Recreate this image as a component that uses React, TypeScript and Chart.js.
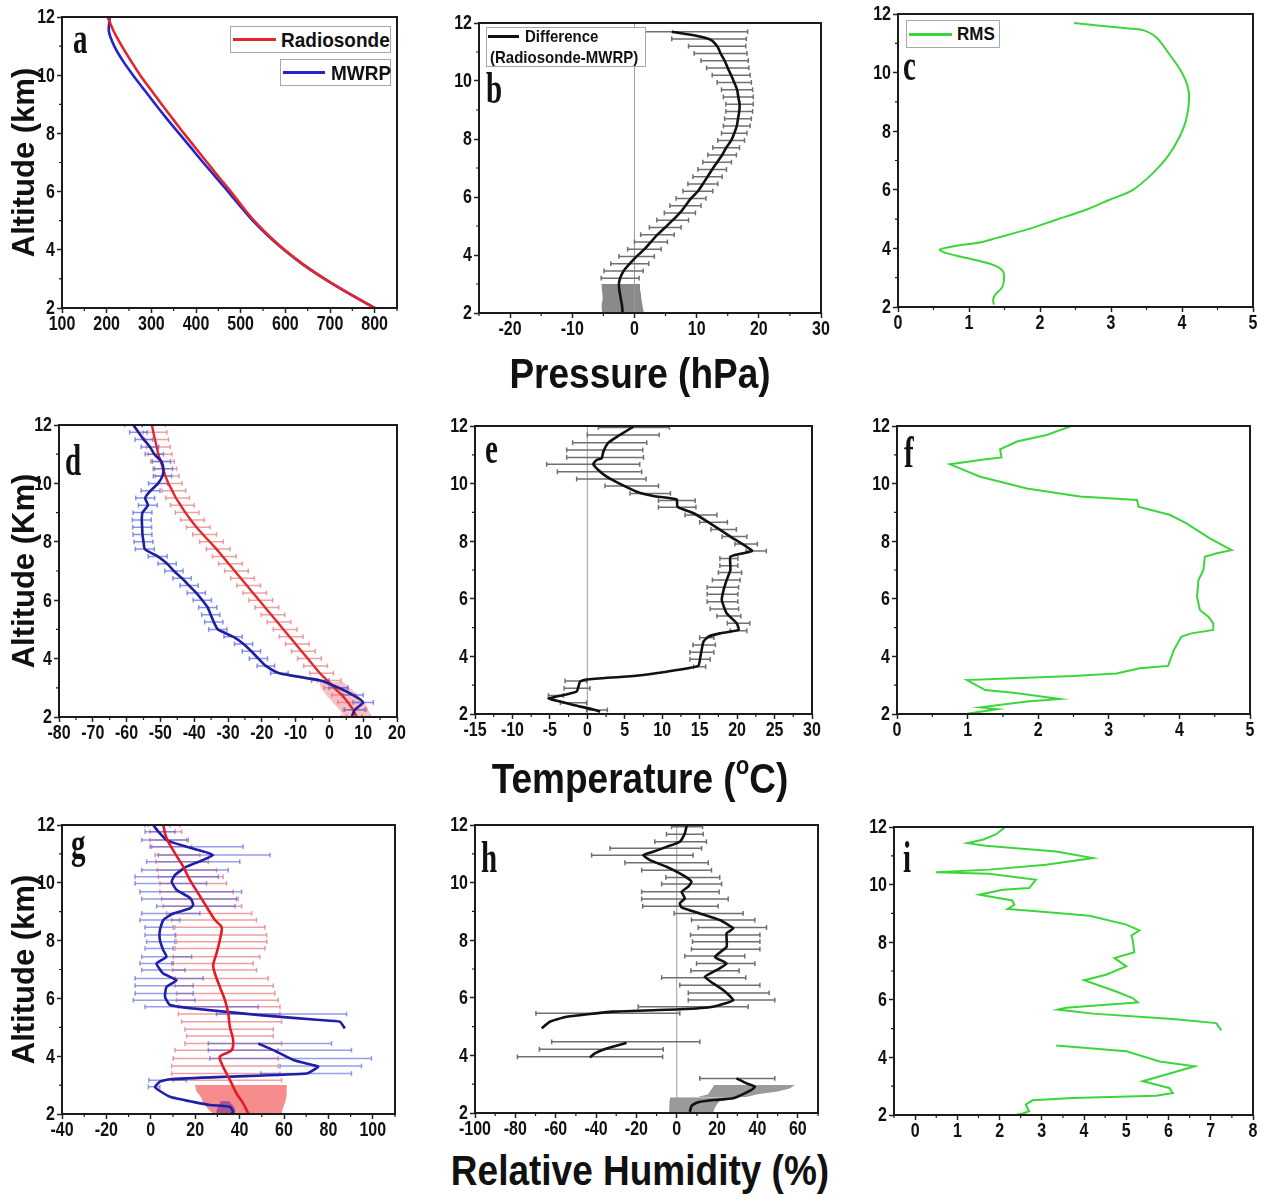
import React, { useEffect, useRef } from "react";
import { Chart, registerables } from "chart.js";
Chart.register(...registerables);

const SANS = '"Liberation Sans", Arial, Helvetica, sans-serif';
const SERIF = '"Liberation Serif", "Times New Roman", serif';
Chart.defaults.font.family = SANS;

// ---------------- DATA ----------------
// (a) pressure profiles (hPa)
const aAlt = [2, 2.5, 3, 3.5, 4, 4.5, 5, 5.5, 6, 6.5, 7, 7.5, 8, 8.5, 9, 9.5, 10, 10.5, 11, 11.5, 12];
const aRadiosonde = [800, 742, 688, 640, 598, 562, 530, 503, 478, 451, 425, 399, 373, 348, 323, 299, 275, 254, 234, 216, 202];
const aMWRP = [800, 742, 688, 639, 597, 560, 527, 499, 472, 444, 416, 389, 362, 335, 309, 284, 259, 236, 217, 205, 207];

// (b) pressure difference
const bLineAlt = [11.7, 11.45, 11.2, 10.95, 10.7, 10.45, 10.2, 9.95, 9.7, 9.45, 9.2, 8.95, 8.7, 8.45, 8.2, 7.95, 7.7, 7.45, 7.2, 6.95, 6.7, 6.45, 6.2, 5.95, 5.7, 5.45, 5.2, 4.95, 4.7, 4.45, 4.2, 3.95, 3.7, 3.45, 3.2, 3.0, 2.75, 2.5, 2.25, 2.0];
const bDiff = [6.0, 12.0, 13.3, 13.85, 14.5, 15.0, 15.55, 16.05, 16.5, 16.7, 16.9, 16.85, 16.65, 16.45, 16.05, 15.55, 14.75, 14.1, 13.3, 12.5, 11.75, 11.0, 10.2, 9.1, 8.2, 7.3, 6.15, 4.95, 3.7, 2.65, 1.6, 0.35, -0.75, -1.75, -2.3, -2.5, -2.4, -2.2, -2.0, -1.9];
const bErr = [12.2, 6.0, 4.6, 4.25, 3.8, 3.4, 3.05, 2.75, 2.5, 2.4, 2.2, 2.15, 2.15, 2.15, 2.05, 2.15, 2.15, 2.3, 2.3, 2.3, 2.35, 2.4, 2.4, 2.4, 2.5, 2.5, 2.55, 2.55, 2.7, 2.65, 2.7, 2.85, 3.05, 3.15, 3.05];
const bFillAlt = [2.0, 2.25, 2.5, 2.75, 3.0];
const bFillLo = [-5.2, -5.3, -5.1, -5.2, -5.3];
const bFillHi = [1.5, 1.3, 1.1, 1.0, 0.9];

// (c) pressure RMS
const cAlt = [11.69, 11.51, 11.45, 11.2, 10.6, 10.04, 9.53, 9.08, 8.4, 7.83, 7.14, 6.57, 6.0, 5.66, 5.32, 4.98, 4.64, 4.35, 4.2, 4.09, 3.96, 3.84, 3.62, 3.44, 3.22, 2.88, 2.65, 2.42, 2.25, 2.08];
const cRms = [2.48, 3.22, 3.45, 3.64, 3.83, 3.99, 4.08, 4.1, 4.06, 3.97, 3.8, 3.59, 3.31, 2.98, 2.65, 2.23, 1.81, 1.38, 1.15, 0.82, 0.59, 0.68, 1.06, 1.34, 1.48, 1.49, 1.46, 1.37, 1.34, 1.35];

// (d) temperature profiles
const dAlt = [2.0, 2.25, 2.5, 2.75, 3.0, 3.25, 3.5, 3.75, 4.0, 4.25, 4.5, 4.75, 5.0, 5.25, 5.5, 5.75, 6.0, 6.25, 6.5, 6.75, 7.0, 7.25, 7.5, 7.75, 8.0, 8.25, 8.5, 8.75, 9.0, 9.25, 9.5, 9.75, 10.0, 10.25, 10.5, 10.75, 11.0, 11.25, 11.5, 11.75, 12.0];
const dRadiosonde = [8.1, 7.0, 5.5, 3.7, 1.4, -0.6, -2.8, -4.6, -6.4, -8.2, -10.0, -11.8, -13.6, -15.4, -17.2, -19.0, -20.8, -22.6, -24.4, -26.2, -28.0, -29.8, -31.6, -33.4, -35.4, -37.4, -39.3, -41.0, -42.6, -44.0, -45.4, -46.5, -47.6, -48.5, -49.2, -49.9, -50.6, -51.1, -51.6, -52.1, -52.5];
const dRadLo = [5.1, 4.0, 2.5, 0.7, -1.6, -3.6, -5.8, -7.6, -9.4, -11.2, -13.0, -14.8, -16.6, -18.4, -20.2, -22.0, -23.8, -25.6, -27.4, -29.2, -31.0, -32.8, -34.6, -36.4, -38.4, -40.4, -42.3, -44.0, -45.6, -47.0, -48.4, -49.5, -50.6, -51.5, -52.2, -52.9, -53.6, -54.1, -54.6, -55.1, -55.5];
const dRadHi = [12.1, 11.0, 9.5, 7.7, 5.4, 3.4, 1.2, -0.6, -2.4, -4.2, -6.0, -7.8, -9.6, -11.4, -13.2, -15.0, -16.8, -18.6, -20.4, -22.2, -24.0, -25.8, -27.6, -29.4, -31.4, -33.4, -35.3, -37.0, -38.6, -40.0, -41.4, -42.5, -43.6, -44.5, -45.2, -45.9, -46.6, -47.1, -47.6, -48.1, -48.5];
const dMWRP = [6.6, 7.5, 10.0, 7.0, 2.7, -2.7, -14.8, -18.8, -21.0, -23.1, -25.4, -28.5, -33.0, -34.2, -35.1, -36.0, -37.6, -39.4, -41.5, -43.6, -46.0, -48.0, -50.8, -54.6, -55.0, -55.3, -55.4, -55.5, -55.3, -53.7, -54.5, -52.9, -50.7, -49.4, -49.1, -49.7, -51.8, -53.1, -54.9, -56.5, -58.0];
const dMWRPErr = [3.0, 3.0, 3.0, 3.0, 2.8, 2.6, 2.6, 2.6, 2.7, 2.7, 2.7, 2.7, 2.7, 2.7, 2.7, 2.7, 2.7, 2.7, 2.7, 2.7, 2.7, 2.7, 2.8, 2.8, 2.8, 2.8, 2.8, 2.8, 2.8, 2.8, 2.8, 2.8, 2.8, 2.7, 2.7, 2.7, 2.7, 2.6, 2.6, 2.6, 2.6];
const dFillAlt = [2.0, 2.25, 2.5, 2.75, 3.0, 3.2];
const dFillLo = [4.5, 3.0, 1.0, -1.0, -2.5, -3.0];
const dFillHi = [12.5, 11.5, 10.5, 8.5, 6.0, 4.0];

// (e) temperature difference
const eAlt = [11.98, 11.69, 11.42, 11.11, 10.88, 10.82, 10.68, 10.47, 10.24, 9.99, 9.72, 9.57, 9.45, 9.2, 8.97, 8.62, 8.16, 7.67, 7.56, 7.46, 7.0, 6.65, 6.31, 5.96, 5.5, 5.15, 4.92, 4.8, 4.69, 4.51, 3.99, 3.67, 3.47, 3.32, 3.2, 3.12, 2.78, 2.63, 2.54, 2.43, 2.31, 2.16, 2.08];
const eDiff = [6.15, 4.37, 2.81, 2.14, 1.92, 1.25, 0.8, 1.47, 2.58, 4.37, 6.6, 8.82, 11.94, 12.03, 14.2, 16.4, 19.1, 22.0, 20.4, 19.1, 19.1, 18.6, 18.2, 17.95, 18.6, 19.95, 20.2, 17.7, 16.2, 15.5, 15.1, 14.8, 10.6, 6.15, -0.09, -0.98, -1.43, -3.65, -5.2, -3.65, -1.87, 0.8, 1.7];
const eBarAlt = [11.95, 11.69, 11.42, 11.17, 10.91, 10.67, 10.41, 10.16, 9.92, 9.66, 9.41, 9.18, 8.91, 8.66, 8.41, 8.16, 7.9, 7.66, 7.4, 7.15, 6.91, 6.65, 6.4, 6.16, 5.9, 5.65, 5.4, 5.15, 4.89, 4.65, 4.4, 4.14, 3.9, 3.64, 3.15, 2.89, 2.64, 2.39, 2.14];
const eBarLo = [1.47, 0, -1.96, -2.76, -2.76, -5.43, -4.0, -1.43, 2.36, 5.7, 9.5, 9.5, 13.05, 15.0, 16.5, 18.0, 19.7, 21.2, 17.7, 17.7, 17.5, 16.7, 16.0, 16.0, 16.0, 16.4, 17.3, 18.7, 19.1, 15.0, 14.1, 13.7, 13.7, 14.2, -2.98, -3.1, -5.2, -3.6, -0.1];
const eBarHi = [10.96, 9.6, 7.93, 7.4, 7.5, 7.0, 7.26, 7.84, 9.5, 11.1, 14.4, 14.5, 17.3, 18.7, 19.9, 21.3, 22.7, 23.9, 20.1, 20.1, 20.6, 20.4, 20.2, 20.1, 20.1, 20.2, 20.5, 21.7, 21.3, 16.9, 17.1, 16.9, 16.4, 15.8, -0.09, 0.36, -3.2, -0.1, 2.67];

// (f) temperature RMS
const fAlt = [11.98, 11.69, 11.46, 11.19, 10.91, 10.84, 10.67, 10.24, 9.83, 9.55, 9.43, 9.2, 8.91, 8.62, 8.1, 7.69, 7.58, 7.46, 7.0, 6.65, 6.07, 5.61, 5.38, 5.15, 4.92, 4.8, 4.69, 4.22, 3.67, 3.59, 3.41, 3.32, 3.18, 2.83, 2.74, 2.52, 2.43, 2.23, 2.17, 2.08, 2.0];
const fRms = [2.45, 2.12, 1.7, 1.46, 1.48, 1.23, 0.75, 1.18, 1.84, 2.59, 3.4, 3.42, 3.87, 4.1, 4.43, 4.74, 4.53, 4.36, 4.34, 4.27, 4.25, 4.29, 4.41, 4.48, 4.48, 4.17, 4.03, 3.92, 3.84, 3.44, 3.11, 2.5, 0.99, 1.25, 1.65, 2.31, 1.84, 1.18, 1.42, 1.18, 0.97];

// (g) relative humidity profiles
const gRadAlt = [12.0, 11.54, 11.02, 10.56, 10.1, 9.63, 9.17, 8.71, 8.46, 8.02, 7.56, 7.15, 6.86, 6.4, 5.94, 5.48, 5.02, 4.56, 4.21, 3.98, 3.75, 3.4, 3.06, 2.71, 2.37, 2.02];
const gRadiosonde = [5.6, 7.1, 10.9, 14.6, 17.6, 21.4, 25.1, 28.9, 31.9, 31.1, 29.6, 28.1, 28.9, 31.1, 33.4, 34.9, 35.6, 37.1, 36.4, 31.1, 31.9, 34.1, 36.4, 38.6, 41.6, 43.9];
const gMwrpAlt = [12.0, 11.77, 11.48, 11.25, 11.07, 10.96, 10.79, 10.56, 10.27, 10.04, 9.75, 9.52, 9.4, 9.23, 9.11, 8.94, 8.71, 8.36, 8.02, 7.67, 7.44, 7.21, 6.86, 6.63, 6.4, 6.06, 5.77, 5.65, 5.42, 5.25, 5.19, 4.96, null, 4.44, 4.21, 3.87, 3.69, 3.64, 3.4, 3.29, 3.2, 3.12, 2.94, 2.83, 2.6, 2.42, 2.31, 2.25, 2.08, 2.02];
const gMWRP = [1.1, 3.4, 7.1, 16.1, 24.4, 28.1, 23.6, 16.1, 10.9, 9.4, 11.6, 16.9, 18.4, 19.1, 17.6, 10.1, 5.6, 4.1, 4.1, 5.6, 7.1, 2.6, 5.6, 11.6, 7.1, 6.4, 8.6, 19.1, 49.1, 76.2, 85.2, 87.4, null, 48.4, 55.2, 64.2, 73.2, 75.4, 70.2, 34.1, 8.6, 4.1, 1.9, 3.4, 8.6, 19.1, 26.6, 35.6, 37.1, 36.4];
const gRadBarAlt = [12.0, 11.77, 11.48, 11.25, 10.96, 10.73, 10.44, 10.21, 9.98, 9.69, 9.44, 9.19, 8.94, 8.71, 8.46, 8.19, 7.96, 7.73, 7.44, 7.21, 6.98, 6.69, 6.44, 6.17, 5.94, 5.71, 5.46, 5.19, 4.93, 4.7, 4.44, 4.21, 3.92, 3.66, 3.4, 3.17];
const gRadLo = [-1.1, -0.4, -0.4, 0.4, 1.9, 2.3, 2.9, 3.4, 4.1, 4.1, 4.9, 5.6, 7.1, 9.4, 10.9, 11.3, 11.6, 10.9, 10.1, 9.4, 9.8, 10.9, 10.9, 11.6, 11.6, 12.4, 12.4, 13.9, 15.4, 16.1, 15.4, 10.9, 10.1, 9.4, 9.4, 10.1];
const gRadHi = [13.1, 13.9, 16.1, 18.4, 22.1, 25.9, 29.6, 32.6, 34.1, 37.1, 39.4, 40.9, 45.4, 47.6, 51.4, 52.2, 52.2, 51.4, 49.1, 46.1, 47.6, 52.9, 55.2, 55.9, 57.4, 58.2, 58.2, 58.9, 55.2, 55.2, 58.9, 57.4, 57.4, 57.4, 58.2, 58.9];
const gMwrpBarAlt = [12.0, 11.77, 11.48, 11.25, 10.96, 10.73, 10.44, 10.21, 9.98, 9.69, 9.44, 9.19, 8.94, 8.71, 8.46, 8.19, 7.96, 7.73, 7.44, 7.21, 6.98, 6.69, 6.44, 6.17, 5.94, 5.71, 5.46, 4.44, 4.21, 3.92, 3.66, 3.4, 3.17, 2.94];
const gMwrpLo = [-2.6, -2.6, -4.1, -0.4, 3.4, -1.9, -4.1, -7.1, -7.1, -4.9, -4.1, 2.6, -4.1, -4.9, -2.6, -2.6, -1.9, -2.6, -4.1, -4.9, -4.1, -7.1, -7.1, -7.1, -7.9, -2.6, 29.6, 25.9, 25.9, 26.6, 58.2, 49.5, -0.9, -1.1];
const gMwrpHi = [8.6, 10.9, 16.9, 41.6, 53.7, 40.1, 34.9, 30.4, 25.1, 40.9, 38.6, 37.9, 22.1, 13.1, 10.1, 10.9, 10.9, 10.1, 18.4, 10.1, 15.4, 23.6, 19.1, 19.1, 19.9, 48.4, 88.2, 81.4, 90.4, 99.4, 94.9, 90.4, 16.0, 4.1];
const gRadFillAlt = [2.0, 2.2, 2.4, 2.6, 2.8, 3.0];
const gRadFillLo = [28.1, 25.5, 23.6, 22.5, 20.5, 19.9];
const gRadFillHi = [58.9, 59.5, 60.5, 61.0, 61.2, 61.2];
const gMwrpFillAlt = [2.0, 2.1, 2.2, 2.3, 2.45];
const gMwrpFillLo = [29.6, 29.6, 30.0, 30.8, 31.5];
const gMwrpFillHi = [37.9, 38.0, 37.9, 37.0, 35.0];

// (h) relative humidity difference
const hAlt = [12.0, 11.94, 11.71, 11.42, 11.24, 11.07, 10.95, 10.78, 10.55, 10.32, 10.14, 10.03, 9.86, 9.68, 9.45, 9.28, 9.14, 8.93, 8.7, 8.41, 8.24, 7.77, 7.42, 7.19, 6.96, 6.73, 6.5, 6.27, 5.92, 5.69, 5.6, 5.52, 5.34, 5.17, 4.94, null, 4.44, 4.24, 4.07, 3.93, null, 3.2, 3.03, 2.91, 2.8, 2.51, 2.45, 2.36, 2.24, 2.04];
const hDiff = [5.0, 4.8, 4.0, 1.5, -5.1, -11.7, -16.6, -13.3, -5.1, 1.5, 5.7, 7.3, 5.7, 2.4, 4.0, 1.5, 2.4, 11.4, 21.3, 28.0, 24.7, 24.7, 18.9, 24.7, 19.7, 13.9, 18.0, 23.0, 28.0, 18.0, 1.5, -31.5, -54.6, -62.9, -67.0, null, -24.9, -34.8, -40.6, -43.0, null, 29.6, 34.6, 38.7, 37.0, 28.0, 18.0, 9.8, 7.3, 6.5];
const hBarAlt = [11.94, 11.68, 11.42, 11.19, 10.95, 10.69, 10.43, 10.18, 9.95, 9.68, 9.43, 9.18, 8.93, 8.7, 8.44, 8.18, 7.95, 7.69, 7.45, 7.19, 6.94, 6.7, 6.44, 6.17, 5.92, 5.69, 5.46, 4.47, 4.21, 3.95, 3.2];
const hBarLo = [-2.6, -5.1, -10.9, -33.1, -42.2, -25.7, -17.4, -5.4, -7.5, -17.4, -17.4, -16.9, -1.3, 7.3, 10.6, 6.8, 7.8, 7.3, 4.0, 9.8, 7.0, -7.5, 1.5, 5.7, 5.7, -19.1, -69.8, -62.0, -68.1, -79.0, 11.4];
const hBarHi = [12.8, 13.1, 14.7, 12.3, 8.1, 15.6, 17.2, 21.3, 22.2, 21.0, 25.5, 20.5, 32.9, 38.7, 44.5, 41.2, 41.2, 41.2, 33.7, 38.7, 30.9, 34.2, 41.2, 45.8, 48.6, 35.4, 1.5, 11.4, -6.7, -7.0, 48.6];
const hLowFillAlt = [2.0, 2.2, 2.4, 2.55];
const hLowFillLo = [-3.8, -3.8, -3.6, -3.2];
const hLowFillHi = [18.0, 19.0, 21.0, 30.0];
const hHighFillAlt = [2.55, 2.65, 2.75, 2.85, 2.97];
const hHighFillLo = [10.0, 15.5, 16.4, 17.5, 18.5];
const hHighFillHi = [34.0, 40.0, 50.0, 56.0, 58.5];

// (i) relative humidity RMS
const iAlt = [11.97, 11.74, 11.56, 11.44, 11.35, 11.15, 10.92, 10.69, 10.52, 10.43, 10.38, 10.17, 9.88, 9.82, 9.65, 9.57, 9.45, 9.3, 9.15, 9.07, 8.92, 8.61, 8.41, 8.23, 8.09, 7.65, 7.45, 7.16, 6.87, 6.68, 6.29, 6.06, 5.91, 5.83, 5.72, 5.66, 5.52, 5.33, 5.19, 4.94, null, 4.41, 4.21, 3.86, 3.69, 3.17, 2.94, 2.76, 2.67, 2.59, 2.51, 2.36, 2.13, 2.05, 1.98];
const iRms = [2.11, 1.91, 1.6, 1.24, 1.67, 3.34, 4.21, 3.1, 1.75, 0.49, 1.75, 2.86, 2.7, 2.07, 1.52, 1.83, 2.3, 2.35, 2.19, 2.94, 4.13, 5.0, 5.31, 5.12, 5.15, 5.19, 4.72, 5.0, 4.52, 4.0, 4.76, 5.15, 5.27, 4.52, 3.57, 3.38, 4.21, 6.1, 7.13, 7.25, null, 3.34, 5.0, 5.79, 6.62, 5.39, 6.02, 6.1, 5.71, 3.73, 2.78, 2.62, 2.7, 2.55, 2.31];

const altRange = [2, 12];

// ---------------- helpers ----------------
type Pt = { x: number | null; y: number | null };
const gap = (): Pt => ({ x: null, y: null });
function profile(alt: (number | null)[], val: (number | null)[]): Pt[] {
  return alt.map((a, i) => (a === null || val[i] === null ? gap() : { x: val[i] as number, y: a }));
}
function segments(alt: number[], lo: number[], hi: number[]): Pt[] {
  const out: Pt[] = [];
  alt.forEach((a, i) => {
    out.push({ x: lo[i], y: a }, { x: hi[i], y: a }, gap());
  });
  return out;
}
function centeredSegments(alt: number[], center: number[], err: number[]): Pt[] {
  const out: Pt[] = [];
  err.forEach((e, i) => {
    out.push({ x: center[i] - e, y: alt[i] }, { x: center[i] + e, y: alt[i] }, gap());
  });
  return out;
}
const lineDs = (data: Pt[], color: string, width: number, tension: number) => ({
  data, borderColor: color, backgroundColor: color, borderWidth: width,
  pointRadius: 0, tension, fill: false, spanGaps: false,
});
const barDs = (data: Pt[], color: string, width: number) => ({
  data, borderColor: color, backgroundColor: color, borderWidth: width,
  pointRadius: 2.4, pointStyle: "line", pointRotation: 90, pointBorderColor: color,
  pointBorderWidth: width, tension: 0, fill: false, spanGaps: false,
});
const fillPair = (alt: number[], lo: number[], hi: number[], color: string) => [
  { data: profile(alt, lo), borderColor: "rgba(0,0,0,0)", borderWidth: 1, pointRadius: 0, fill: false, tension: 0 },
  { data: profile(alt, hi), borderColor: "rgba(0,0,0,0)", borderWidth: 1, pointRadius: 0, fill: "-1", backgroundColor: color, tension: 0 },
];
const zeroLine = () => lineDs([{ x: 0, y: altRange[0] }, { x: 0, y: altRange[1] }], "#9a9a9a", 1, 0);

const GREEN = "#3cd63c";
const GRAYBAR = "#707070";

// ---------------- panel layout ----------------
const PAD_T = 12;
const PAD_R = 12;
const X_H = 30;

type PanelDef = {
  id: string; L: number; R: number; T: number; B: number; yW: number;
  xMin: number; xMax: number; xStep: number; yTitle?: string; datasets: any[];
};

const panels: PanelDef[] = [
  {
    id: "a", L: 62, R: 397, T: 17, B: 308, yW: 60, xMin: 100, xMax: 850, xStep: 100, yTitle: "Altitude (km)",
    datasets: [
      lineDs(profile(aAlt, aRadiosonde), "#e3262b", 2.6, 0.3),
      lineDs(profile(aAlt, aMWRP), "#2424cf", 2.6, 0.3),
    ],
  },
  {
    id: "b", L: 479, R: 821, T: 23, B: 313, yW: 50, xMin: -25, xMax: 30, xStep: 10,
    datasets: [
      lineDs(profile(bLineAlt, bDiff), "#111111", 2.6, 0.4),
      barDs(centeredSegments(bLineAlt, bDiff, bErr), GRAYBAR, 1.5),
      zeroLine(),
      ...fillPair(bFillAlt, bFillLo, bFillHi, "#8a8a8a"),
    ],
  },
  {
    id: "c", L: 898, R: 1253, T: 14, B: 307, yW: 50, xMin: 0, xMax: 5, xStep: 1,
    datasets: [lineDs(profile(cAlt, cRms), GREEN, 2, 0.3)],
  },
  {
    id: "d", L: 59, R: 397, T: 425, B: 717, yW: 57, xMin: -80, xMax: 20, xStep: 10, yTitle: "Altitude (Km)",
    datasets: [
      lineDs(profile(dAlt, dMWRP), "#1f1f9e", 2.6, 0.2),
      lineDs(profile(dAlt, dRadiosonde), "#e02a2a", 2.4, 0.3),
      barDs(centeredSegments(dAlt, dMWRP, dMWRPErr), "rgba(85,105,225,0.7)", 1.5),
      barDs(segments(dAlt, dRadLo, dRadHi), "rgba(232,110,115,0.65)", 1.5),
      ...fillPair(dFillAlt, dFillLo, dFillHi, "rgba(240,120,125,0.45)"),
    ],
  },
  {
    id: "e", L: 475, R: 812, T: 426, B: 714, yW: 50, xMin: -15, xMax: 30, xStep: 5,
    datasets: [
      lineDs(profile(eAlt, eDiff), "#111111", 2.6, 0.15),
      barDs(segments(eBarAlt, eBarLo, eBarHi), GRAYBAR, 1.5),
      zeroLine(),
    ],
  },
  {
    id: "f", L: 897, R: 1250, T: 426, B: 714, yW: 50, xMin: 0, xMax: 5, xStep: 1,
    datasets: [lineDs(profile(fAlt, fRms), GREEN, 2, 0)],
  },
  {
    id: "g", L: 62, R: 395, T: 825, B: 1114, yW: 60, xMin: -40, xMax: 110, xStep: 20, yTitle: "Altitude (km)",
    datasets: [
      lineDs(profile(gRadAlt, gRadiosonde), "#e41c22", 2.6, 0.3),
      lineDs(profile(gMwrpAlt, gMWRP), "#1f1fa8", 2.6, 0.15),
      barDs(segments(gMwrpBarAlt, gMwrpLo, gMwrpHi), "rgba(80,95,215,0.6)", 1.5),
      barDs(segments(gRadBarAlt, gRadLo, gRadHi), "rgba(228,110,120,0.65)", 1.5),
      ...fillPair(gMwrpFillAlt, gMwrpFillLo, gMwrpFillHi, "rgba(120,50,150,0.6)"),
      ...fillPair(gRadFillAlt, gRadFillLo, gRadFillHi, "rgba(246,128,128,0.9)"),
    ],
  },
  {
    id: "h", L: 475, R: 818, T: 825, B: 1113, yW: 50, xMin: -100, xMax: 70, xStep: 20,
    datasets: [
      lineDs(profile(hAlt, hDiff), "#111111", 2.6, 0.15),
      barDs(segments(hBarAlt, hBarLo, hBarHi), GRAYBAR, 1.5),
      zeroLine(),
      ...fillPair(hLowFillAlt, hLowFillLo, hLowFillHi, "#9a9a9a"),
      ...fillPair(hHighFillAlt, hHighFillLo, hHighFillHi, "#9a9a9a"),
    ],
  },
  {
    id: "i", L: 894, R: 1253, T: 827, B: 1115, yW: 50, xMin: -0.5, xMax: 8, xStep: 1,
    datasets: [lineDs(profile(iAlt, iRms), GREEN, 2, 0)],
  },
];

// frame, minor ticks and vertically stretched tick labels (placed by the scales)
const framePlugin = {
  id: "frame",
  afterDraw(chart: any) {
    const { ctx, chartArea: a, scales } = chart;
    ctx.save();
    ctx.strokeStyle = "#1b1b1b";
    ctx.lineWidth = 2;
    ctx.strokeRect(a.left, a.top, a.right - a.left, a.bottom - a.top);
    ctx.lineWidth = 1.2;
    const minor = (scale: any, horiz: boolean) => {
      const t = scale.ticks;
      if (!t || t.length < 2) return;
      const step = t[1].value - t[0].value;
      let v = t[0].value - step / 2;
      while (v < scale.min - 1e-9) v += step;
      ctx.beginPath();
      for (; v <= scale.max + 1e-9; v += step) {
        const p = scale.getPixelForValue(v);
        if (horiz) { ctx.moveTo(p, a.bottom); ctx.lineTo(p, a.bottom + 3); }
        else { ctx.moveTo(a.left, p); ctx.lineTo(a.left - 3, p); }
      }
      ctx.stroke();
    };
    minor(scales.x, true);
    minor(scales.y, false);

    ctx.fillStyle = "#111";
    ctx.font = `bold 16px ${SANS}`;
    const xs = scales.x;
    ctx.textAlign = "center";
    ctx.textBaseline = "top";
    xs.ticks.forEach((t: any) => {
      const px = xs.getPixelForValue(t.value);
      ctx.save();
      ctx.translate(px, a.bottom + 6);
      ctx.scale(1, 1.3);
      ctx.fillText(String(t.label ?? t.value), 0, 0);
      ctx.restore();
    });
    const ys = scales.y;
    ctx.textAlign = "right";
    ctx.textBaseline = "middle";
    ys.ticks.forEach((t: any) => {
      const py = ys.getPixelForValue(t.value);
      ctx.save();
      ctx.translate(a.left - 7, py);
      ctx.scale(1, 1.3);
      ctx.fillText(String(t.label ?? t.value), 0, 0.5);
      ctx.restore();
    });
    ctx.restore();
  },
};

const gridOpts = { display: true, drawOnChartArea: false, drawTicks: true, tickLength: 5, tickWidth: 1.5, tickColor: "#222" };

function PanelChart({ p }: { p: PanelDef }) {
  const ref = useRef<HTMLCanvasElement>(null);
  const w = p.R - p.L + p.yW + PAD_R;
  const h = p.B - p.T + PAD_T + X_H;
  useEffect(() => {
    const chart = new Chart(ref.current as HTMLCanvasElement, {
      type: "line",
      data: { datasets: p.datasets },
      options: {
        indexAxis: "y",
        responsive: false,
        maintainAspectRatio: false,
        animation: false,
        devicePixelRatio: 1,
        events: [],
        layout: { padding: { top: PAD_T, right: PAD_R, left: 0, bottom: 0 } },
        plugins: { legend: { display: false }, tooltip: { enabled: false } },
        scales: {
          x: {
            type: "linear", min: p.xMin, max: p.xMax,
            ticks: { display: false, stepSize: p.xStep, includeBounds: false, autoSkip: false },
            grid: gridOpts, border: { display: false },
            afterFit: (s: any) => { s.height = X_H; },
          },
          y: {
            type: "linear", min: altRange[0], max: altRange[1],
            ticks: { display: false, stepSize: 2, includeBounds: false, autoSkip: false },
            grid: gridOpts, border: { display: false },
            title: p.yTitle
              ? { display: true, text: p.yTitle, color: "#111", font: { family: SANS, size: 31, weight: "bold" }, padding: { top: 5, bottom: 0 } }
              : { display: false },
            afterFit: (s: any) => { s.width = p.yW; },
          },
        },
      } as any,
      plugins: [framePlugin],
    } as any);
    return () => chart.destroy();
  }, []);
  return (
    <canvas
      ref={ref}
      width={w}
      height={h}
      style={{ position: "absolute", left: p.L - p.yW, top: p.T - PAD_T, width: w, height: h }}
    />
  );
}

const letters = [
  { t: "a", x: 73, y: 17 }, { t: "b", x: 486, y: 67 }, { t: "c", x: 903, y: 44 },
  { t: "d", x: 65, y: 439 }, { t: "e", x: 485, y: 427 }, { t: "f", x: 904, y: 431 },
  { t: "g", x: 71, y: 822 }, { t: "h", x: 481, y: 836 }, { t: "i", x: 903, y: 836 },
];

const bigTitle = (top: number, content: React.ReactNode) => (
  <div
    style={{
      position: "absolute", left: 340, top, width: 600, textAlign: "center",
      font: `bold 37px ${SANS}`, lineHeight: "37px", color: "#111",
      transform: "scaleY(1.13)", transformOrigin: "top center", whiteSpace: "nowrap",
    }}
  >
    {content}
  </div>
);

const legendBox = (left: number, top: number, w: number, h: number, children: React.ReactNode) => (
  <div style={{ position: "absolute", left, top, width: w, height: h, border: "1px solid #a8a8a8", background: "#fff", boxSizing: "border-box" }}>
    {children}
  </div>
);
const sample = (left: number, top: number, w: number, color: string) => (
  <div style={{ position: "absolute", left, top, width: w, height: 2.5, background: color }} />
);
const label = (left: number, center: number, size: number, text: string) => (
  <div
    style={{
      position: "absolute", left, top: center - (size * 1.1) / 2 - 1, font: `bold ${size}px ${SANS}`,
      lineHeight: `${size}px`, color: "#111", whiteSpace: "nowrap", transform: "scaleY(1.1)", transformOrigin: "top left",
    }}
  >
    {text}
  </div>
);

export default function App() {
  return (
    <div style={{ position: "absolute", left: 0, top: 0, width: 1266, height: 1197, background: "#fff", overflow: "hidden" }}>
      {panels.map((p) => (
        <PanelChart key={p.id} p={p} />
      ))}
      {letters.map((l) => (
        <div
          key={l.t}
          style={{
            position: "absolute", left: l.x, top: l.y, font: `bold 29px ${SERIF}`, lineHeight: "29px",
            color: "#111", transform: "scaleY(1.5)", transformOrigin: "top left",
          }}
        >
          {l.t}
        </div>
      ))}
      {legendBox(230, 26, 161, 27, <>
        {sample(2, 11, 43, "#e3262b")}
        {label(50, 13, 19, "Radiosonde")}
      </>)}
      {legendBox(280, 59, 111, 27, <>
        {sample(2, 11, 42, "#2424cf")}
        {label(50, 13, 19, "MWRP")}
      </>)}
      {legendBox(486, 27, 160, 40, <>
        {sample(1, 7, 31, "#111")}
        {label(38, 9, 15, "Difference")}
        {label(3, 30, 15, "(Radiosonde-MWRP)")}
      </>)}
      {legendBox(906, 20, 94, 28, <>
        {sample(2, 12, 43, GREEN)}
        {label(50, 14, 17, "RMS")}
      </>)}
      {bigTitle(353, "Pressure (hPa)")}
      {bigTitle(758, <>Temperature (<sup style={{ fontSize: "0.6em", verticalAlign: "0.75em", lineHeight: 0 }}>o</sup>C)</>)}
      {bigTitle(1150, "Relative Humidity (%)")}
    </div>
  );
}
